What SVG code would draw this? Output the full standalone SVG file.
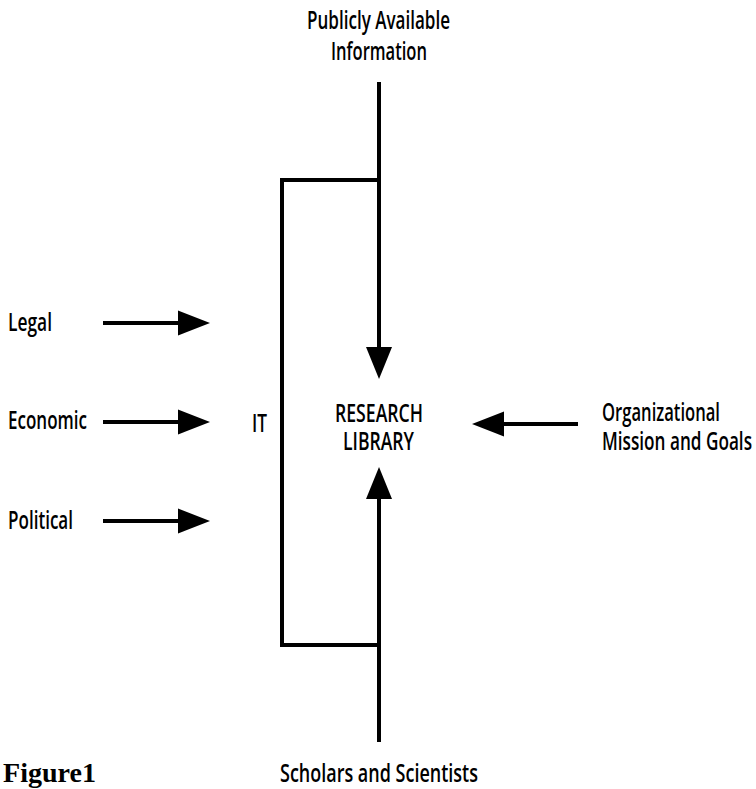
<svg xmlns="http://www.w3.org/2000/svg" width="756" height="789" viewBox="0 0 756 789">
<style>
  .lbl{font-family:"Open Sans","Liberation Sans","DejaVu Sans",sans-serif;font-size:26px;font-weight:600;fill:#000}
  .fig{font-family:"Liberation Serif","DejaVu Serif",serif;font-size:27px;font-weight:bold;fill:#000}
  .ln{stroke:#000;stroke-width:4;fill:none}
  .ah{fill:#000}
</style>
<defs>
  <polygon id="ahR" class="ah" points="0,-12.5 32,0 0,12.5"/>
</defs>
<rect width="756" height="789" fill="#fff"/>
<g id="connectors">
  <!-- top arrow into library -->
  <line class="ln" x1="379" y1="82" x2="379" y2="350"/>
  <polygon class="ah" points="366,347 392,347 379,379"/>
  <!-- bottom arrow into library -->
  <line class="ln" x1="379" y1="742" x2="379" y2="495"/>
  <polygon class="ah" points="366,499 392,499 379,467"/>
  <!-- IT bracket -->
  <polyline class="ln" points="379,180 282,180 282,645 379,645"/>
  <!-- left arrows -->
  <line class="ln" x1="103" y1="323" x2="180" y2="323"/>
  <use href="#ahR" x="178" y="323"/>
  <line class="ln" x1="103" y1="422" x2="180" y2="422"/>
  <use href="#ahR" x="178" y="422"/>
  <line class="ln" x1="103" y1="521" x2="180" y2="521"/>
  <use href="#ahR" x="178" y="521"/>
  <!-- right arrow -->
  <line class="ln" x1="578" y1="424" x2="500" y2="424"/>
  <polygon class="ah" points="504,411.5 504,436.5 472,424"/>
</g>
<g id="node-public">
  <text class="lbl" x="307" y="29" textLength="143" lengthAdjust="spacingAndGlyphs">Publicly Available</text>
  <text class="lbl" x="331" y="60" textLength="96" lengthAdjust="spacingAndGlyphs">Information</text>
</g>
<g id="node-legal">
  <text class="lbl" x="8" y="331" textLength="44" lengthAdjust="spacingAndGlyphs">Legal</text>
</g>
<g id="node-economic">
  <text class="lbl" x="8" y="429" textLength="79" lengthAdjust="spacingAndGlyphs">Economic</text>
</g>
<g id="node-political">
  <text class="lbl" x="8" y="529" textLength="65" lengthAdjust="spacingAndGlyphs">Political</text>
</g>
<g id="node-it">
  <text class="lbl" x="252" y="432" textLength="15" lengthAdjust="spacingAndGlyphs">IT</text>
</g>
<g id="node-library">
  <text class="lbl" x="335" y="422" textLength="88" lengthAdjust="spacingAndGlyphs">RESEARCH</text>
  <text class="lbl" x="343" y="450" textLength="71" lengthAdjust="spacingAndGlyphs">LIBRARY</text>
</g>
<g id="node-org">
  <text class="lbl" x="602" y="421" textLength="118" lengthAdjust="spacingAndGlyphs">Organizational</text>
  <text class="lbl" x="602" y="450" textLength="150" lengthAdjust="spacingAndGlyphs">Mission and Goals</text>
</g>
<g id="node-scholars">
  <text class="lbl" x="280" y="782" textLength="198" lengthAdjust="spacingAndGlyphs">Scholars and Scientists</text>
</g>
<g id="caption">
  <text class="fig" x="3" y="782" textLength="93" lengthAdjust="spacingAndGlyphs">Figure1</text>
</g>
</svg>
